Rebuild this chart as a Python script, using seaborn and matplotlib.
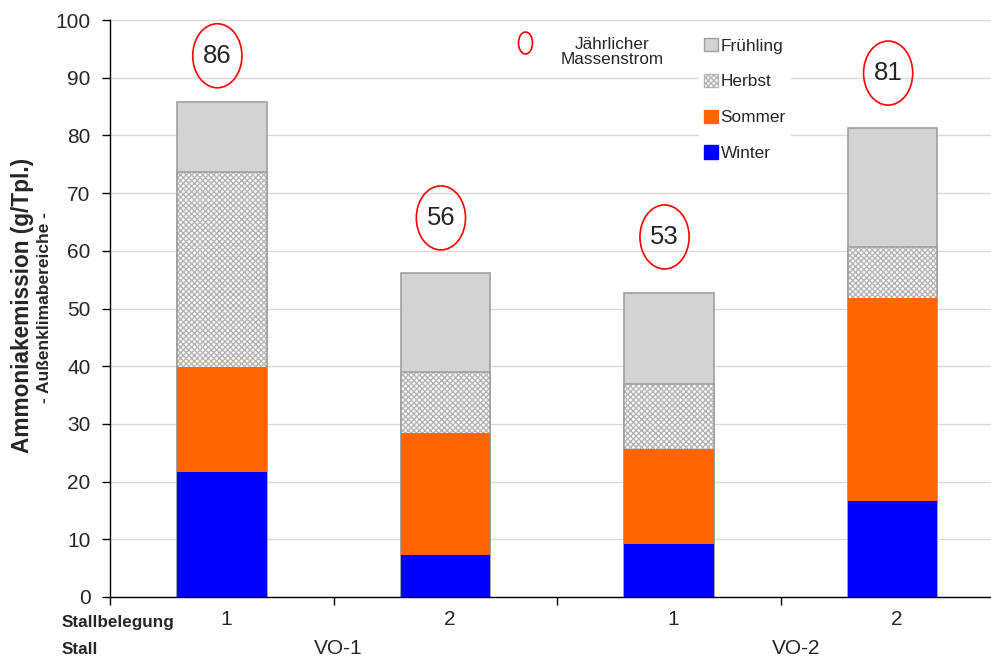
import numpy as np
import pandas as pd
import seaborn as sns
import matplotlib.pyplot as plt
from matplotlib.patches import Ellipse, Patch

# data
belegung = ['1', '2', '1', '2']
stall = ['VO-1', 'VO-2']
winter = [21.7, 7.3, 9.1, 16.6]
sommer = [18.2, 21.1, 16.6, 35.3]
herbst = [33.7, 10.6, 11.3, 8.8]
fruehling = [12.2, 17.2, 15.6, 20.5]
massenstrom = [86, 56, 53, 81]
massenstrom_y = [93.8, 65.7, 62.4, 90.8]

sns.set_theme(style='white')
plt.rcParams['font.family'] = ['Liberation Sans', 'DejaVu Sans']

df = pd.DataFrame({'pos': range(4), 'Winter': winter, 'Sommer': sommer,
                   'Herbst': herbst, 'Frühling': fruehling})
df['c_winter'] = df['Winter']
df['c_sommer'] = df['c_winter'] + df['Sommer']
df['c_herbst'] = df['c_sommer'] + df['Herbst']
df['c_fruehling'] = df['c_herbst'] + df['Frühling']

fig = plt.figure(figsize=(9.91, 6.59), dpi=100)
ax = fig.add_axes([110 / 991, 62 / 659, 881 / 991, 577 / 659])

ax.yaxis.grid(True, color='#d9d9d9', linewidth=1)
ax.set_axisbelow(True)

# stacked bars drawn as overlaid cumulative totals
sns.barplot(data=df, x='pos', y='c_fruehling', color='#d3d3d3', saturation=1,
            width=0.4, edgecolor='#a0a0a0', linewidth=1.2, ax=ax, native_scale=True)
sns.barplot(data=df, x='pos', y='c_herbst', color='white', saturation=1,
            width=0.4, edgecolor='#b4b4b4', linewidth=0, hatch='xxxxxx', ax=ax, native_scale=True)
sns.barplot(data=df, x='pos', y='c_herbst', color='none', saturation=1, fill=False,
            width=0.4, edgecolor='#a0a0a0', linewidth=1.2, ax=ax, native_scale=True)
sns.barplot(data=df, x='pos', y='c_sommer', color='#ff6600', saturation=1,
            width=0.4, linewidth=0, ax=ax, native_scale=True)
sns.barplot(data=df, x='pos', y='c_winter', color='#0000ff', saturation=1,
            width=0.4, linewidth=0, ax=ax, native_scale=True)

for i, (v, y) in enumerate(zip(massenstrom, massenstrom_y)):
    ax.add_patch(Ellipse((i - 0.02, y), width=0.22, height=11.1, fill=False,
                         edgecolor='red', linewidth=1.2, zorder=5))
    ax.text(i - 0.02, y, str(v), ha='center', va='center', fontsize=18.5, zorder=6)

ax.set_xlim(-0.5, 3.44)
ax.set_ylim(0, 100)
ax.set_yticks(range(0, 101, 10))
ax.tick_params(axis='y', labelsize=15, length=6, width=1, color='black',
               direction='out', left=True, pad=8)
ax.set_xticks([-0.5, 0.5, 1.5, 2.5])
ax.set_xticklabels([])
ax.tick_params(axis='x', length=6, width=1, color='black', direction='out', bottom=True)
ax.set_xlabel('')
ax.set_ylabel('')
for s in ['top', 'right']:
    ax.spines[s].set_visible(False)
for s in ['left', 'bottom']:
    ax.spines[s].set_color('black')
    ax.spines[s].set_linewidth(1)

# category labels below the axis
for i, lab in enumerate(belegung):
    ax.text(i + 0.02, -3.9, lab, ha='center', va='center', fontsize=15)
ax.text(0.52, -8.9, stall[0], ha='center', va='center', fontsize=15)
ax.text(2.57, -8.9, stall[1], ha='center', va='center', fontsize=15)
fig.text(62 / 991, 1 - 622 / 659, 'Stallbelegung', fontsize=12.3, fontweight='bold',
         ha='left', va='center')
fig.text(62 / 991, 1 - 650 / 659, 'Stall', fontsize=12.3, fontweight='bold',
         ha='left', va='center')

# y axis title in two lines
fig.text(23 / 991, 1 - 305 / 659, 'Ammoniakemission (g/Tpl.)', rotation=90,
         fontsize=16.3, fontweight='bold', ha='center', va='center')
fig.text(45 / 991, 1 - 308 / 659, '- Außenklimabereiche -', rotation=90,
         fontsize=12.5, fontweight='bold', ha='center', va='center')

# legend
handles = [Patch(facecolor='#d3d3d3', edgecolor='#a0a0a0', label='Frühling'),
           Patch(facecolor='white', edgecolor='#b4b4b4', hatch='xxxxxx', label='Herbst'),
           Patch(facecolor='#ff6600', edgecolor='#ff6600', label='Sommer'),
           Patch(facecolor='#0000ff', edgecolor='#0000ff', label='Winter')]
leg = ax.legend(handles=handles, loc='upper left',
                bbox_to_anchor=(699 / 991, 1 - 33 / 659), bbox_transform=fig.transFigure,
                fontsize=12.4, frameon=True, framealpha=1, edgecolor='white',
                fancybox=False, labelspacing=1.17, handlelength=0.8, handleheight=0.8,
                handletextpad=0.15, borderpad=0.3, borderaxespad=0)
leg.get_frame().set_linewidth(0)

fig.patches.append(Ellipse((525.5 / 991, 1 - 43 / 659), width=14 / 991, height=22 / 659,
                           fill=False, edgecolor='red', linewidth=1.2,
                           transform=fig.transFigure))
fig.text(612 / 991, 1 - 52 / 659, 'Jährlicher\nMassenstrom', fontsize=12.3,
         ha='center', va='center', linespacing=1.05)

fig.savefig('out.png', dpi=100)
